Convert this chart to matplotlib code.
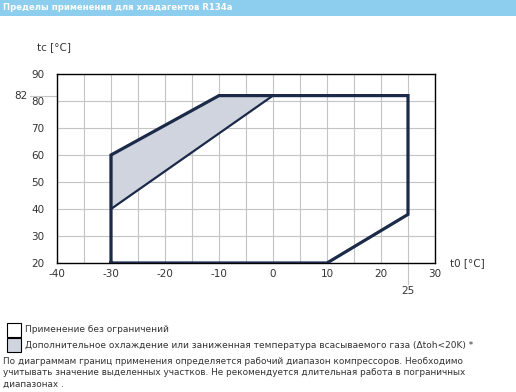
import matplotlib.pyplot as plt
import matplotlib.patches as mpatches
import matplotlib.transforms as mtransforms

# envelope of the compressor (t0 evaporating, tc condensing)
env_t0 = [-30, -30, -10, 25, 25, 10, -30]
env_tc = [20, 60, 82, 82, 38, 20, 20]

# zone with extra cooling / reduced suction gas temperature
zone_t0 = [-30, -10, 0, -30]
zone_tc = [60, 82, 82, 40]

x_ticks = [-40, -30, -20, -10, 0, 10, 20, 30]
y_ticks = [20, 30, 40, 50, 60, 70, 80, 90]
extra_t0 = 25
extra_tc = 82

title = "Пределы применения для хладагентов R134a"
legend_items = ["Применение без ограничений",
                "Дополнительное охлаждение или заниженная температура всасываемого газа (Δtoh<20K) *"]
note_lines = ["По диаграммам границ применения определяется рабочий диапазон компрессоров. Необходимо",
              "учитывать значение выделенных участков. Не рекомендуется длительная работа в пограничных",
              "диапазонах ."]

navy = "#1b2a48"
fill_col = "#d0d4de"
grid_col = "#c4c4c4"
txt_col = "#333333"

plt.rcParams['font.family'] = ['DejaVu Sans']

W, H = 516, 392
fig = plt.figure(figsize=(W / 100, H / 100), dpi=100)

def fx(px):
    return px / W

def fy(py):
    return 1 - py / H

# title bar
fig.patches.append(mpatches.Rectangle((0, fy(16)), 1, 16 / H, transform=fig.transFigure,
                                      facecolor="#8dcdee", edgecolor="none"))
fig.text(fx(3), fy(8), title, color="white", fontsize=6.1, fontweight="bold", va="center")

ax = fig.add_axes([fx(57), fy(263), fx(435) - fx(57), (263 - 74) / H])
ax.set_xlim(-40, 30)
ax.set_ylim(20, 90)
ax.set_xticks(range(-40, 31, 5), minor=False)
ax.set_yticks(y_ticks)
ax.grid(True, color=grid_col, linewidth=0.8)
ax.set_axisbelow(True)
ax.tick_params(length=0, labelsize=7.5, colors=txt_col)
ax.set_xticklabels([str(v) if v in x_ticks else "" for v in range(-40, 31, 5)])
ax.tick_params(axis='x', pad=4)
ax.tick_params(axis='y', pad=9)
for s in ax.spines.values():
    s.set_color("black")
    s.set_linewidth(1.0)

ax.fill(zone_t0, zone_tc, color=fill_col, zorder=2)
ax.plot(zone_t0[1:] + zone_t0[:1], zone_tc[1:] + zone_tc[:1], color=navy, linewidth=1.6, zorder=3)
ax.plot(env_t0, env_tc, color=navy, linewidth=2.3, zorder=4, solid_joinstyle="miter")

# extra markers for 82 and 25
trans_y = mtransforms.blended_transform_factory(fig.transFigure, ax.transData)
ax.plot([fx(30), fx(57)], [extra_tc, extra_tc], transform=trans_y, color=grid_col,
        linewidth=0.8, clip_on=False)
fig.text(fx(14), fy(96), str(extra_tc), transform=fig.transFigure, fontsize=7.5,
         color=txt_col, va="center")
trans_x = mtransforms.blended_transform_factory(ax.transData, fig.transFigure)
ax.plot([extra_t0, extra_t0], [fy(263), fy(284)], transform=trans_x, color=grid_col,
        linewidth=0.8, clip_on=False)
ax.text(extra_t0, fy(291), str(extra_t0), transform=trans_x, fontsize=7.5,
        color=txt_col, ha="center", va="center")

fig.text(fx(37), fy(47), "tc [°C]", fontsize=7.5, color=txt_col, va="center")
fig.text(fx(450), fy(263), "t0 [°C]", fontsize=7.5, color=txt_col, va="center")

# legend
for i, (lab, fc) in enumerate(zip(legend_items, ["white", fill_col])):
    top = 323 + i * 15
    fig.patches.append(mpatches.Rectangle((fx(7), fy(top + 14)), 14 / W, 14 / H,
                                          transform=fig.transFigure, facecolor=fc,
                                          edgecolor="black", linewidth=0.8))
    fig.text(fx(25), fy(top + 7), lab, fontsize=6.5, color=txt_col, va="center")

for i, line in enumerate(note_lines):
    fig.text(fx(3), fy(361 + i * 11.5), line, fontsize=6.4, color=txt_col, va="center")

fig.savefig("out.png", dpi=100, facecolor="white")
